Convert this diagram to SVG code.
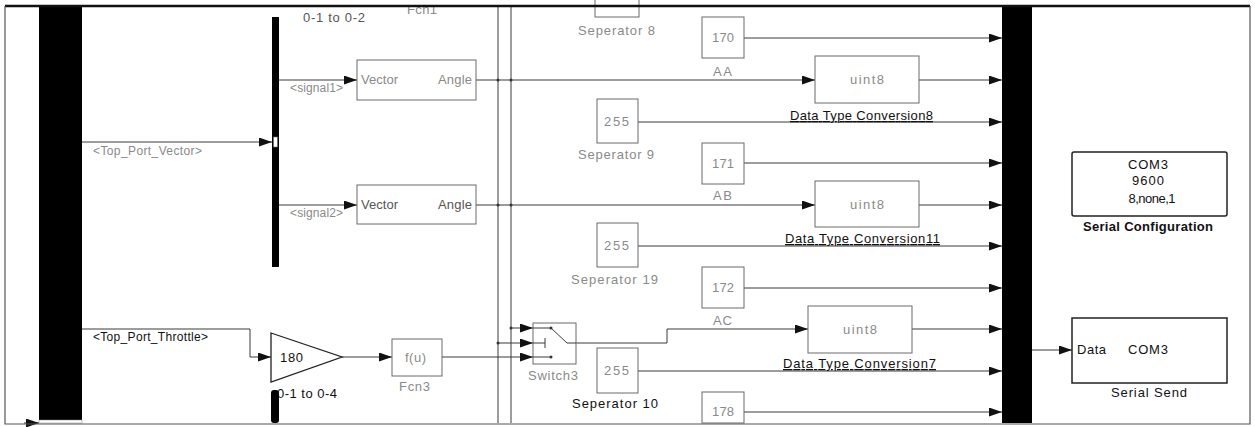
<svg xmlns="http://www.w3.org/2000/svg" width="1255" height="427" viewBox="0 0 1255 427">
<style>
.t{font-family:"Liberation Sans",Arial,sans-serif;font-size:13px}
.s{font-size:12px}
.g{fill:#8a8a8a}
.d{fill:#555}
.k{fill:#111}
.ln{stroke:#3a3a3a;stroke-width:1;fill:none}
.blk{fill:#fff;stroke:#6a6a6a;stroke-width:1}
.sb{fill:#fff;stroke:#222;stroke-width:1.5}
.bar{fill:#000}
.u{text-decoration:underline}
</style>
<defs>
<marker id="ar" markerUnits="userSpaceOnUse" markerWidth="13" markerHeight="9" refX="13" refY="4.5" orient="auto">
<path d="M0,0 L13,4.5 L0,9 z" fill="#111"/>
</marker>
</defs>
<rect x="0" y="0" width="1255" height="427" fill="#fff"/>

<g id="connectors">
<path class="ln" d="M498,7 V423"/>
<path class="ln" d="M511,7 V423"/>
<path class="ln" marker-end="url(#ar)" d="M82,142 H272"/>
<path class="ln" marker-end="url(#ar)" d="M279,80 H357"/>
<path class="ln" marker-end="url(#ar)" d="M279,205 H357"/>
<path class="ln" marker-end="url(#ar)" d="M476,80 H815"/>
<path class="ln" marker-end="url(#ar)" d="M476,205 H815"/>
<path class="ln" marker-end="url(#ar)" d="M919,80 H1002"/>
<path class="ln" marker-end="url(#ar)" d="M919,205 H1002"/>
<path class="ln" marker-end="url(#ar)" d="M744,38 H1002"/>
<path class="ln" marker-end="url(#ar)" d="M638,122 H1002"/>
<path class="ln" marker-end="url(#ar)" d="M744,163 H1002"/>
<path class="ln" marker-end="url(#ar)" d="M638,246 H1002"/>
<path class="ln" marker-end="url(#ar)" d="M744,288 H1002"/>
<path class="ln" marker-end="url(#ar)" d="M576,343 H667 V329 H808"/>
<path class="ln" marker-end="url(#ar)" d="M912,329 H1002"/>
<path class="ln" marker-end="url(#ar)" d="M638,371 H1002"/>
<path class="ln" marker-end="url(#ar)" d="M744,412 H1002"/>
<path class="ln" marker-end="url(#ar)" d="M82,329 H250 V357 H271"/>
<path class="ln" marker-end="url(#ar)" d="M342,357 H392"/>
<path class="ln" marker-end="url(#ar)" d="M442,357 H533"/>
<path class="ln" marker-end="url(#ar)" d="M511,328 H533"/>
<path class="ln" marker-end="url(#ar)" d="M498,343 H533"/>
<path class="ln" marker-end="url(#ar)" d="M1032,350 H1072"/>
<path class="ln" marker-end="url(#ar)" d="M24,423 H39"/>
<g fill="#333">
<circle cx="498" cy="80" r="1.5"/><circle cx="511" cy="80" r="1.5"/>
<circle cx="498" cy="205" r="1.5"/><circle cx="511" cy="205" r="1.5"/>
<circle cx="498" cy="343" r="1.5"/><circle cx="511" cy="328" r="1.5"/>
</g>
</g>

<g id="left-bar"><rect class="bar" x="39" y="7" width="43" height="413"/><rect x="39" y="420" width="43" height="3" fill="#fff" stroke="#888" stroke-width="0.5"/></g>
<text class="t s g" x="93" y="155" textLength="109">&lt;Top_Port_Vector&gt;</text>
<text class="t s k" x="93" y="341" textLength="115">&lt;Top_Port_Throttle&gt;</text>

<g id="demux1">
<rect class="bar" x="272" y="17" width="7" height="250"/>
<rect x="273.5" y="137" width="4" height="10" fill="#fff" stroke="#666" stroke-width="0.6"/>
<text class="t d" x="303" y="22" textLength="62">0-1 to 0-2</text>
<text class="t s g" x="290" y="92" textLength="53">&lt;signal1&gt;</text>
<text class="t s g" x="290" y="217" textLength="53">&lt;signal2&gt;</text>
</g>

<g id="fcn1"><text class="t g" x="407" y="14" textLength="30">Fcn1</text></g>

<g id="vec1">
<rect class="blk" x="357" y="60" width="119" height="40"/>
<text class="t g" x="361" y="84" textLength="37">Vector</text>
<text class="t g" x="438" y="84" textLength="34">Angle</text>
</g>
<g id="vec2">
<rect class="blk" x="357" y="185" width="119" height="39"/>
<text class="t d" x="361" y="209" textLength="37">Vector</text>
<text class="t d" x="438" y="209" textLength="34">Angle</text>
</g>

<g id="gain">
<path d="M271,333 L342,357 L271,382 Z" fill="#fff" stroke="#222" stroke-width="1.3"/>
<text class="t k" x="280" y="362" textLength="23">180</text>
</g>

<g id="demux2">
<rect class="bar" x="271" y="390" width="8" height="33" rx="3"/>
<text class="t k" x="277" y="398" textLength="60">0-1 to 0-4</text>
</g>

<g id="fcn3">
<rect class="blk" x="392" y="339" width="50" height="37"/>
<text class="t g" x="405" y="362" textLength="21">f(u)</text>
<text class="t g" x="399" y="391" textLength="31">Fcn3</text>
</g>

<g id="switch3">
<rect class="blk" x="533" y="323" width="43" height="41"/>
<path class="ln" d="M533,328 H551 M533,343 H545 M545,338 V348 M533,357 H551 M551,328 L567,343 H576"/>
<circle cx="551" cy="328" r="1.5" fill="#333"/><circle cx="551" cy="357" r="1.5" fill="#333"/>
<text class="t g" x="528" y="380" textLength="50">Switch3</text>
</g>

<g id="sep8">
<rect class="blk" x="595" y="-5" width="44" height="22"/>
<text class="t g" x="578" y="35" textLength="77">Seperator 8</text>
</g>
<g id="sep9">
<rect class="blk" x="597" y="99" width="41" height="44"/>
<text class="t g" x="604" y="126" textLength="25">255</text>
<text class="t g" x="578" y="159" textLength="76">Seperator 9</text>
</g>
<g id="sep19">
<rect class="blk" x="597" y="223" width="41" height="44"/>
<text class="t g" x="604" y="250" textLength="25">255</text>
<text class="t g" x="571" y="284" textLength="87">Seperator 19</text>
</g>
<g id="sep10">
<rect class="blk" x="597" y="348" width="41" height="45"/>
<text class="t g" x="604" y="375" textLength="25">255</text>
<text class="t k" x="572" y="408" textLength="86">Seperator 10</text>
</g>

<g id="c170">
<rect class="blk" x="702" y="17" width="42" height="41"/>
<text class="t g" x="712" y="42" textLength="22">170</text>
<text class="t g" x="713" y="76" textLength="19">AA</text>
</g>
<g id="c171">
<rect class="blk" x="702" y="143" width="42" height="41"/>
<text class="t g" x="712" y="168" textLength="22">171</text>
<text class="t g" x="713" y="200" textLength="19">AB</text>
</g>
<g id="c172">
<rect class="blk" x="702" y="267" width="42" height="41"/>
<text class="t g" x="712" y="292" textLength="22">172</text>
<text class="t g" x="713" y="325" textLength="19">AC</text>
</g>
<g id="c178">
<rect class="blk" x="702" y="392" width="42" height="31"/>
<text class="t g" x="712" y="416" textLength="22">178</text>
</g>

<g id="dtc8">
<rect class="blk" x="815" y="56" width="104" height="47"/>
<text class="t g" x="850" y="84" textLength="34">uint8</text>
<text class="t k u" x="790" y="120" textLength="143">Data Type Conversion8</text>
</g>
<g id="dtc11">
<rect class="blk" x="815" y="181" width="104" height="46"/>
<text class="t g" x="850" y="209" textLength="34">uint8</text>
<text class="t k u" x="785" y="243" textLength="155">Data Type Conversion11</text>
</g>
<g id="dtc7">
<rect class="blk" x="808" y="306" width="104" height="47"/>
<text class="t g" x="843" y="334" textLength="34">uint8</text>
<text class="t k u" x="783" y="368" textLength="153">Data Type Conversion7</text>
</g>

<g id="right-bar"><rect class="bar" x="1002" y="7" width="30" height="416"/></g>

<g id="serial-config">
<rect class="sb" x="1072" y="152" width="155" height="64" rx="2"/>
<text class="t k" x="1148" y="169" text-anchor="middle" textLength="40">COM3</text>
<text class="t k" x="1148" y="185" text-anchor="middle" textLength="32">9600</text>
<text class="t k" x="1152" y="203" text-anchor="middle" textLength="47">8,none,1</text>
<text class="t k" x="1148" y="231" text-anchor="middle" font-weight="bold" textLength="130">Serial Configuration</text>
</g>
<g id="serial-send">
<rect class="sb" x="1072" y="318" width="155" height="65"/>
<text class="t k" x="1077" y="354" textLength="29">Data</text>
<text class="t k" x="1128" y="354" textLength="40">COM3</text>
<text class="t k" x="1149" y="397" text-anchor="middle" textLength="76">Serial Send</text>
</g>

<g id="frame">
<path d="M5,6 H1250" stroke="#111" stroke-width="2.5" fill="none"/>
<path d="M5,6 V424 H1250 V6" stroke="#555" stroke-width="1.2" fill="none"/>
</g>
</svg>
